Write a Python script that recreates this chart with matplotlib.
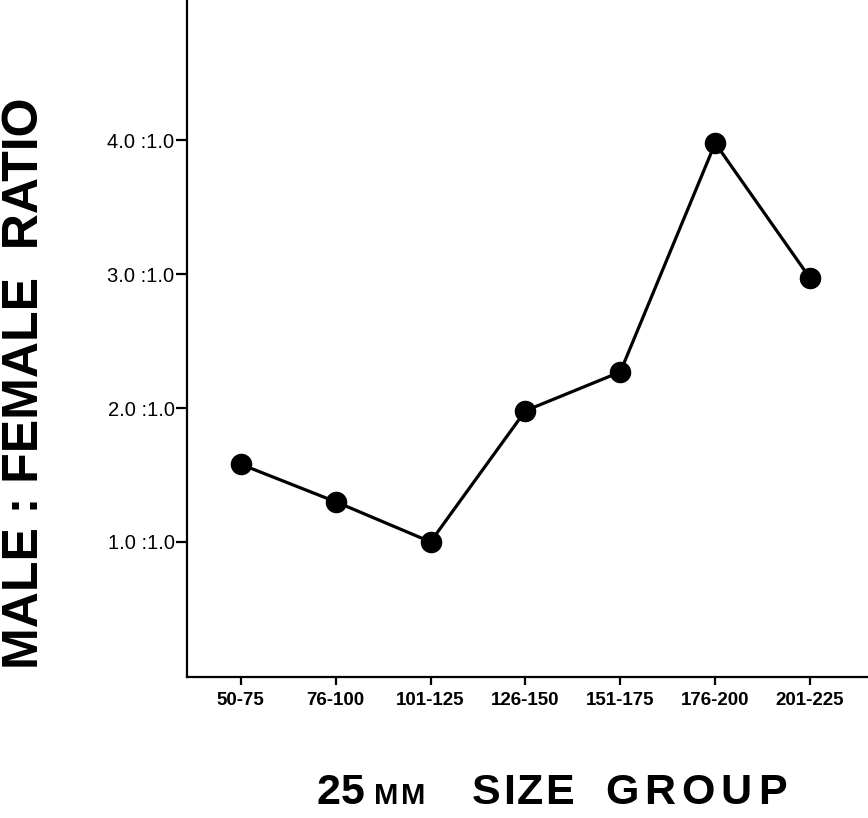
import matplotlib
matplotlib.use('Agg')
import matplotlib.pyplot as plt
import numpy as np

# size groups (mm) and male:female ratio
size_groups = ['50-75', '76-100', '101-125', '126-150', '151-175', '176-200', '201-225']
ratio = [1.58, 1.30, 1.00, 1.98, 2.27, 3.98, 2.97]
ytick_vals = [1.0, 2.0, 3.0, 4.0]
ytick_labels = ['1.0 :1.0', '2.0 :1.0', '3.0 :1.0', '4.0 :1.0']

W, H = 868, 818
fam = ['Liberation Sans', 'DejaVu Sans']
fig = plt.figure(figsize=(W / 100, H / 100), dpi=100)
ax = fig.add_axes([187 / W, 1 - 677 / H, (W - 187) / W, 677 / H])

x = np.arange(len(size_groups))
ax.plot(x, ratio, color='black', lw=2.3, marker='o', ms=14.5,
        markerfacecolor='black', markeredgecolor='black', clip_on=False)

ax.set_xlim(-0.566, 6.61)
ax.set_ylim(-0.01, 5.05)

for s in ['top', 'right']:
    ax.spines[s].set_visible(False)
for s in ['left', 'bottom']:
    ax.spines[s].set_linewidth(1.6)

ax.set_xticks(x)
ax.set_xticklabels(size_groups, family=fam, fontweight='bold', fontsize=13.5)
ax.set_yticks(ytick_vals)
ax.set_yticklabels(ytick_labels, family=fam, fontsize=14.5)
ax.tick_params(axis='x', length=6, width=1.6, pad=5)
ax.tick_params(axis='y', length=8, width=1.6, pad=1)

# y axis title
fig.text(25 / W, 1 - 383 / H, 'MALE : FEMALE  RATIO', rotation=90, ha='center', va='center',
         family=fam, fontweight='bold', fontsize=36)

# x axis title, letters spread out a bit like the wide original lettering
renderer = fig.canvas.get_renderer()


def spaced_text(x_px, y, s, track, **kw):
    for ch in s:
        t = fig.text(x_px / W, y, ch, **kw)
        x_px += t.get_window_extent(renderer).width + track


base = 1 - 804 / H
big = dict(family=fam, fontweight='bold', fontsize=31, va='baseline', ha='left')
small = dict(family=fam, fontweight='bold', fontsize=21, va='baseline', ha='left')
spaced_text(317, base, '25', 0, **big)
spaced_text(374, base, 'MM', 3, **small)
spaced_text(472, base, 'SIZE', 2, **big)
spaced_text(605, base, 'GROUP', 6, **big)

fig.savefig('out.png', dpi=100)
